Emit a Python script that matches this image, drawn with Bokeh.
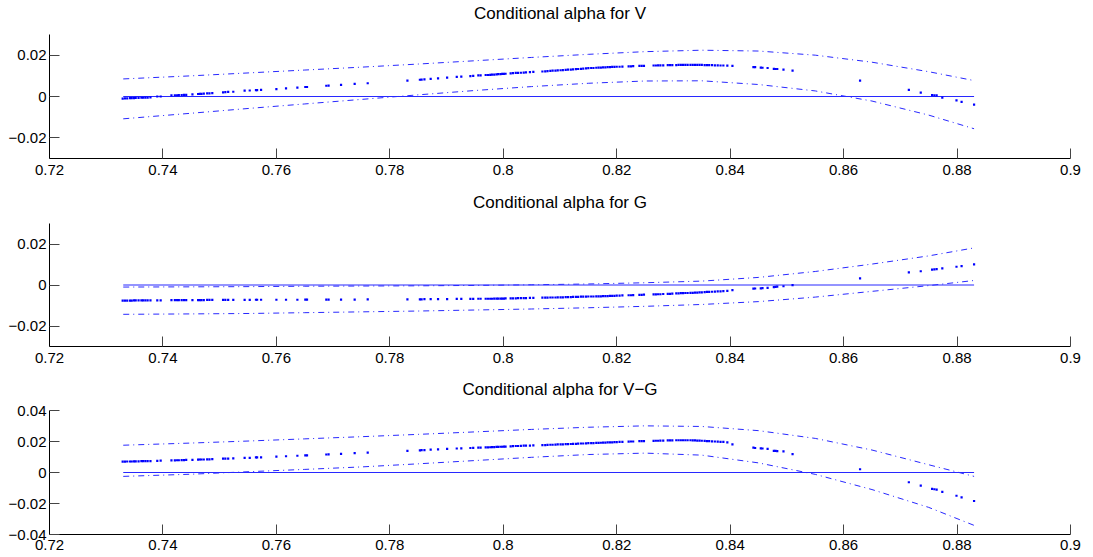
from bokeh.plotting import figure
from bokeh.layouts import column
from bokeh.models import Range1d, FixedTicker, CustomJSTickFormatter, Title
from bokeh.embed import file_html
from bokeh.resources import INLINE

# ---------------- data ----------------
titles = ["Conditional alpha for V", "Conditional alpha for G", "Conditional alpha for V\u2212G"]

x_ticks = [0.72, 0.74, 0.76, 0.78, 0.80, 0.82, 0.84, 0.86, 0.88, 0.90]
y_ticks_small = [-0.02, 0.0, 0.02]
y_ticks_large = [-0.04, -0.02, 0.0, 0.02, 0.04]

x_pts = [
    0.7329, 0.7333, 0.7337, 0.7342, 0.7345, 0.7349, 0.7352, 0.7357, 0.7362, 0.7365, 0.7369, 0.7373,
    0.7378, 0.7390, 0.7396,
    0.7415, 0.7421, 0.7425, 0.7428, 0.7433, 0.7437, 0.7441,
    0.7452,
    0.7462, 0.7465, 0.7468, 0.7472, 0.7478, 0.7482, 0.7487,
    0.7506, 0.7510, 0.7515,
    0.7524,
    0.7544, 0.7553,
    0.7564, 0.7566, 0.7573,
    0.7600, 0.7617, 0.7637,
    0.7651, 0.7654,
    0.7688, 0.7692,
    0.7714, 0.7738,
    0.7761, 0.7831,
    0.7853, 0.7856, 0.7861, 0.7872,
    0.7885, 0.7901,
    0.7918, 0.7926,
    0.7942, 0.7947, 0.7956, 0.7960,
    0.7969, 0.7973, 0.7977, 0.7980, 0.7984, 0.7988, 0.7991, 0.7995, 0.7998, 0.8001, 0.8004,
    0.8013, 0.8017, 0.8022, 0.8026, 0.8031, 0.8036, 0.8040, 0.8047, 0.8053,
    0.8069, 0.8074, 0.8078, 0.8083, 0.8087, 0.8092, 0.8096, 0.8101, 0.8105, 0.8110, 0.8114, 0.8119,
    0.8123, 0.8128, 0.8132, 0.8137, 0.8141, 0.8146, 0.8150, 0.8155, 0.8159, 0.8164, 0.8168, 0.8172,
    0.8176, 0.8180, 0.8184, 0.8188, 0.8192, 0.8196, 0.8200, 0.8205, 0.8210,
    0.8221, 0.8225, 0.8229, 0.8240, 0.8244, 0.8248,
    0.8265, 0.8269, 0.8273, 0.8277, 0.8282, 0.8290, 0.8294, 0.8298, 0.8305, 0.8309,
    0.8313, 0.8317, 0.8321, 0.8325, 0.8330, 0.8334, 0.8338, 0.8342, 0.8346, 0.8350,
    0.8355, 0.8359, 0.8363, 0.8368, 0.8373, 0.8378, 0.8383, 0.8388, 0.8395,
    0.8404,
    0.8441, 0.8444, 0.8454, 0.8457, 0.8466,
    0.8477, 0.8480, 0.8483, 0.8494,
    0.8510,
    0.8629, 0.8715, 0.8736, 0.8756, 0.8760, 0.8764, 0.8774, 0.8799, 0.8808, 0.8830,
]

alpha_v = [
    -0.0010, -0.0009, -0.0009, -0.0008, -0.0008, -0.0008, -0.0007, -0.0007, -0.0006, -0.0006, -0.0005, -0.0005,
    -0.0004, 0.0000, 0.0000,
    0.0005, 0.0006, 0.0006, 0.0007, 0.0007, 0.0008, 0.0008,
    0.0010,
    0.0012, 0.0013, 0.0013, 0.0014, 0.0015, 0.0015, 0.0016,
    0.0020, 0.0021, 0.0022,
    0.0023,
    0.0028, 0.0029,
    0.0031, 0.0031, 0.0032,
    0.0036, 0.0039, 0.0043,
    0.0046, 0.0046,
    0.0052, 0.0053,
    0.0056, 0.0061,
    0.0064, 0.0077,
    0.0081, 0.0082, 0.0083, 0.0085,
    0.0088, 0.0091,
    0.0095, 0.0096,
    0.0099, 0.0100, 0.0102, 0.0102,
    0.0104, 0.0104, 0.0105, 0.0106, 0.0106, 0.0107, 0.0108, 0.0108, 0.0109, 0.0109, 0.0110,
    0.0112, 0.0113, 0.0114, 0.0114, 0.0115, 0.0116, 0.0117, 0.0118, 0.0119,
    0.0121, 0.0122, 0.0123, 0.0124, 0.0125, 0.0125, 0.0126, 0.0127, 0.0128, 0.0129, 0.0130, 0.0130,
    0.0131, 0.0132, 0.0133, 0.0134, 0.0135, 0.0136, 0.0137, 0.0138, 0.0138, 0.0139, 0.0140, 0.0140,
    0.0141, 0.0141, 0.0142, 0.0142, 0.0143, 0.0143, 0.0144, 0.0144, 0.0145,
    0.0146, 0.0146, 0.0147, 0.0148, 0.0148, 0.0148,
    0.0150, 0.0150, 0.0151, 0.0151, 0.0151, 0.0152, 0.0152, 0.0152, 0.0152, 0.0153,
    0.0153, 0.0153, 0.0153, 0.0153, 0.0153, 0.0153, 0.0153, 0.0153, 0.0153, 0.0153,
    0.0152, 0.0152, 0.0152, 0.0152, 0.0151, 0.0151, 0.0150, 0.0150, 0.0149,
    0.0148,
    0.0142, 0.0142, 0.0140, 0.0139, 0.0138,
    0.0134, 0.0133, 0.0133, 0.0130,
    0.0125,
    0.0077, 0.0032, 0.0019, 0.0007, 0.0006, 0.0005, -0.0005, -0.0019, -0.0026, -0.0039,
]

alpha_g = [
    -0.0076, -0.0076, -0.0076, -0.0076, -0.0076, -0.0075, -0.0075, -0.0075, -0.0075, -0.0075, -0.0075, -0.0075,
    -0.0075, -0.0075, -0.0075,
    -0.0074, -0.0074, -0.0074, -0.0074, -0.0074, -0.0074, -0.0074,
    -0.0074,
    -0.0074, -0.0074, -0.0074, -0.0074, -0.0073, -0.0073, -0.0073,
    -0.0073, -0.0073, -0.0073,
    -0.0073,
    -0.0073, -0.0073,
    -0.0072, -0.0072, -0.0072,
    -0.0072, -0.0072, -0.0072,
    -0.0071, -0.0071,
    -0.0071, -0.0071,
    -0.0071, -0.0071,
    -0.0070, -0.0070,
    -0.0070, -0.0070, -0.0069, -0.0069,
    -0.0069, -0.0069,
    -0.0068, -0.0068,
    -0.0068, -0.0068, -0.0067, -0.0067,
    -0.0067, -0.0067, -0.0067, -0.0067, -0.0066, -0.0066, -0.0066, -0.0066, -0.0066, -0.0066, -0.0065,
    -0.0065, -0.0065, -0.0065, -0.0064, -0.0064, -0.0064, -0.0064, -0.0063, -0.0063,
    -0.0062, -0.0062, -0.0062, -0.0061, -0.0061, -0.0061, -0.0060, -0.0060, -0.0060, -0.0059, -0.0059, -0.0059,
    -0.0058, -0.0058, -0.0058, -0.0057, -0.0057, -0.0057, -0.0056, -0.0056, -0.0056, -0.0055, -0.0055, -0.0055,
    -0.0054, -0.0054, -0.0054, -0.0053, -0.0053, -0.0053, -0.0052, -0.0052, -0.0051,
    -0.0050, -0.0050, -0.0049, -0.0048, -0.0048, -0.0047,
    -0.0046, -0.0046, -0.0045, -0.0045, -0.0044, -0.0043, -0.0043, -0.0042, -0.0041, -0.0041,
    -0.0040, -0.0040, -0.0039, -0.0039, -0.0038, -0.0038, -0.0037, -0.0037, -0.0036, -0.0036,
    -0.0035, -0.0034, -0.0034, -0.0033, -0.0032, -0.0031, -0.0031, -0.0030, -0.0029,
    -0.0025,
    -0.0018, -0.0017, -0.0016, -0.0015, -0.0014,
    -0.0010, -0.0009, -0.0008, -0.0006,
    -0.0001,
    0.0032, 0.0062, 0.0067, 0.0075, 0.0076, 0.0077, 0.0081, 0.0089, 0.0092, 0.0101,
]

alpha_vg = [
    0.0070, 0.0070, 0.0071, 0.0071, 0.0071, 0.0072, 0.0072, 0.0072, 0.0073, 0.0073, 0.0073, 0.0074,
    0.0074, 0.0075, 0.0076,
    0.0078, 0.0078, 0.0079, 0.0079, 0.0080, 0.0080, 0.0081,
    0.0082,
    0.0083, 0.0084, 0.0084, 0.0084, 0.0085, 0.0085, 0.0086,
    0.0089, 0.0089, 0.0090,
    0.0091,
    0.0094, 0.0095,
    0.0097, 0.0097, 0.0098,
    0.0102, 0.0105, 0.0108,
    0.0110, 0.0111,
    0.0116, 0.0117,
    0.0120, 0.0125,
    0.0128, 0.0140,
    0.0143, 0.0144, 0.0145, 0.0147,
    0.0149, 0.0152,
    0.0155, 0.0156,
    0.0158, 0.0159, 0.0160, 0.0161,
    0.0162, 0.0162, 0.0163, 0.0164, 0.0164, 0.0165, 0.0165, 0.0166, 0.0166, 0.0167, 0.0167,
    0.0169, 0.0170, 0.0171, 0.0171, 0.0172, 0.0173, 0.0173, 0.0174, 0.0175,
    0.0177, 0.0177, 0.0178, 0.0179, 0.0179, 0.0180, 0.0181, 0.0181, 0.0182, 0.0183, 0.0183, 0.0184,
    0.0185, 0.0185, 0.0186, 0.0187, 0.0187, 0.0188, 0.0189, 0.0189, 0.0190, 0.0191, 0.0191, 0.0192,
    0.0193, 0.0193, 0.0194, 0.0194, 0.0195, 0.0196, 0.0196, 0.0197, 0.0198,
    0.0199, 0.0200, 0.0200, 0.0202, 0.0202, 0.0203,
    0.0204, 0.0205, 0.0205, 0.0206, 0.0206, 0.0207, 0.0207, 0.0207, 0.0208, 0.0208,
    0.0208, 0.0208, 0.0208, 0.0208, 0.0208, 0.0207, 0.0207, 0.0206, 0.0206, 0.0205,
    0.0204, 0.0203, 0.0202, 0.0201, 0.0200, 0.0199, 0.0198, 0.0197, 0.0195,
    0.0182,
    0.0160, 0.0158, 0.0156, 0.0155, 0.0153,
    0.0140, 0.0139, 0.0138, 0.0136,
    0.0119,
    0.0021, -0.0063, -0.0085, -0.0106, -0.0108, -0.0110, -0.0125, -0.0150, -0.0161, -0.0184,
]

band_x = [0.733, 0.745, 0.755, 0.765, 0.775, 0.785, 0.795, 0.805, 0.815, 0.825, 0.835, 0.845, 0.855, 0.865, 0.875, 0.883]
upper_v = [0.0085, 0.0100, 0.0114, 0.0128, 0.0142, 0.0157, 0.0173, 0.0189, 0.0204, 0.0217, 0.0224, 0.0220, 0.0200, 0.0166, 0.0120, 0.0077]
lower_v = [-0.0108, -0.0081, -0.0058, -0.0036, -0.0014, 0.0008, 0.0029, 0.0048, 0.0064, 0.0075, 0.0076, 0.0058, 0.0027, -0.0022, -0.0090, -0.0156]
upper_g = [-0.0010, -0.0009, -0.0008, -0.0006, -0.0005, -0.0004, -0.0002, 0.0001, 0.0005, 0.0011, 0.0019, 0.0037, 0.0066, 0.0102, 0.0142, 0.0181]
lower_g = [-0.0143, -0.0141, -0.0139, -0.0135, -0.0131, -0.0127, -0.0122, -0.0117, -0.0111, -0.0104, -0.0095, -0.0081, -0.0059, -0.0031, -0.0003, 0.0022]
upper_vg = [0.0176, 0.0190, 0.0203, 0.0217, 0.0231, 0.0246, 0.0262, 0.0278, 0.0292, 0.0301, 0.0297, 0.0270, 0.0220, 0.0145, 0.0050, -0.0025]
lower_vg = [-0.0025, -0.0011, 0.0005, 0.0020, 0.0036, 0.0056, 0.0077, 0.0098, 0.0116, 0.0125, 0.0112, 0.0062, -0.0012, -0.0110, -0.0225, -0.0341]
zero_line = [0.0, 0.0]

# ---------------- styling ----------------
FONT = "Liberation Sans"
BLUE = "#0000ff"
LINE_BLUE = "#2828ff"

fmt = CustomJSTickFormatter(code="""
let s = tick.toFixed(2);
if (s.indexOf('.') >= 0) { s = s.replace(/0+$/, '').replace(/\\.$/, ''); }
if (s === '-0') { s = '0'; }
return s.replace('-', '\\u2212');
""")


def make_panel(title, pts, up, lo, yr, yticks, height, top, bottom, xstand):
    p = figure(width=1090, height=height, output_backend="svg", toolbar_location=None,
               x_range=Range1d(0.72, 0.90), y_range=Range1d(-yr, yr),
               min_border_left=49, min_border_right=20,
               min_border_top=top, min_border_bottom=bottom,
               title=None)
    # small spacer between frame and the title text
    p.add_layout(Title(text=" ", text_font=FONT, text_font_size="8px", standoff=0), "above")
    p.add_layout(Title(text=title, align="center", text_font=FONT, text_font_size="17px",
                       text_font_style="normal", text_color="#000000", standoff=2), "above")
    p.outline_line_color = None
    p.xgrid.visible = False
    p.ygrid.visible = False
    p.background_fill_color = "white"
    p.border_fill_color = "white"

    for ax, ticks in ((p.xaxis[0], x_ticks), (p.yaxis[0], yticks)):
        ax.ticker = FixedTicker(ticks=ticks)
        ax.formatter = fmt
        ax.major_tick_in = 10
        ax.major_tick_out = 0
        ax.minor_tick_line_color = None
        ax.major_tick_line_color = "#444444"
        ax.axis_line_color = "#000000"
        ax.major_label_text_font = FONT
        ax.major_label_text_font_size = "15px"
        ax.major_label_text_color = "#000000"
    p.xaxis[0].major_label_standoff = xstand
    p.yaxis[0].major_label_standoff = 3

    p.line([band_x[0], band_x[-1]], zero_line, line_color=LINE_BLUE, line_width=1)
    p.line(band_x, up, line_color=LINE_BLUE, line_width=1, line_dash="6 4 1 4")
    p.line(band_x, lo, line_color=LINE_BLUE, line_width=1, line_dash="6 4 1 4")
    p.scatter(x_pts, pts, marker="square", size=2.2, fill_color=BLUE, line_color=None)
    return p


p1 = make_panel(titles[0], alpha_v, upper_v, lower_v, 0.03, y_ticks_small, 189, 33, 31, 6)
p2 = make_panel(titles[1], alpha_g, upper_g, lower_g, 0.03, y_ticks_small, 187, 33, 30, 6)
p3 = make_panel(titles[2], alpha_vg, upper_vg, lower_vg, 0.04, y_ticks_large, 180, 33, 22, 5)

p = column(p1, p2, p3)

open("out.html", "w").write(file_html(p, INLINE))
